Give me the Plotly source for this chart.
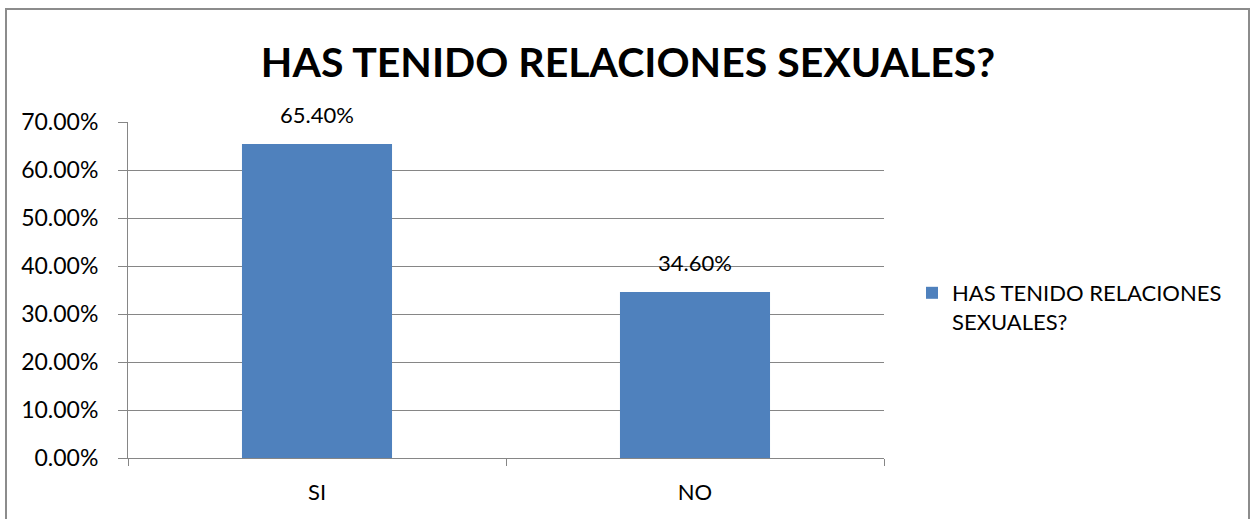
import plotly.graph_objects as go

categories = ["SI", "NO"]
values = [0.654, 0.346]
series_name = "HAS TENIDO RELACIONES SEXUALES?"
title_text = "HAS TENIDO RELACIONES SEXUALES?"

FONT = "Lato"
BAR_COLOR = "#4F81BD"
GRID = "#868686"
FS = 22

fig = go.Figure()
fig.add_trace(go.Bar(
    x=categories, y=values, name="HAS TENIDO RELACIONES<br>SEXUALES?",
    marker=dict(color=BAR_COLOR, line=dict(width=0)),
    showlegend=True,
))

for c, v in zip(categories, values):
    fig.add_annotation(x=c, y=v, text=f"{v*100:.2f}%", showarrow=False,
                       yanchor="bottom", yshift=14,
                       font=dict(family=FONT, size=FS, color="#000000"))

L, R, T, B = 128, 884, 122, 458
W, H = 1250, 519
pw, ph = R - L, B - T

def px(xp):
    return (xp - L) / pw

def py(yp):
    return (B - yp) / ph

fig.add_shape(type="rect", xref="paper", yref="paper",
              x0=px(6), x1=px(1249), y0=py(540), y1=py(9),
              line=dict(color="#8C8C8C", width=2), fillcolor="rgba(0,0,0,0)", layer="below")

fig.update_layout(
    width=W, height=H,
    margin=dict(l=L, r=W - R, t=T, b=H - B, pad=0),
    paper_bgcolor="white", plot_bgcolor="white",
    font=dict(family=FONT, size=FS, color="#000000"),
    title=dict(text="<b>" + title_text + "</b>", xref="container", yref="container",
               x=628 / W, y=1 - 63 / H, xanchor="center", yanchor="middle",
               font=dict(family=FONT, size=41, color="#000000")),
    bargap=0.603,
    showlegend=True,
    legend=dict(x=px(912), y=py(272), xanchor="left", yanchor="top",
                font=dict(family=FONT, size=FS, color="#000000"),
                bgcolor="rgba(0,0,0,0)", valign="top"),
    xaxis=dict(showgrid=False, showline=True, linecolor=GRID, linewidth=1,
               ticks="outside", tickson="boundaries", ticklen=7, tickcolor=GRID,
               ticklabelstandoff=15, tickfont=dict(family=FONT, size=FS)),
    yaxis=dict(range=[0, 0.7], dtick=0.1, tickformat=".2%", showgrid=True,
               gridcolor=GRID, gridwidth=1, showline=True, linecolor=GRID, linewidth=1,
               ticks="outside", ticklen=9, tickcolor=GRID, ticklabelstandoff=15,
               zeroline=False, tickfont=dict(family=FONT, size=23)),
)

fig.write_html("out.html", post_script="document.body.style.margin='0px';",
               config={"displayModeBar": False})
